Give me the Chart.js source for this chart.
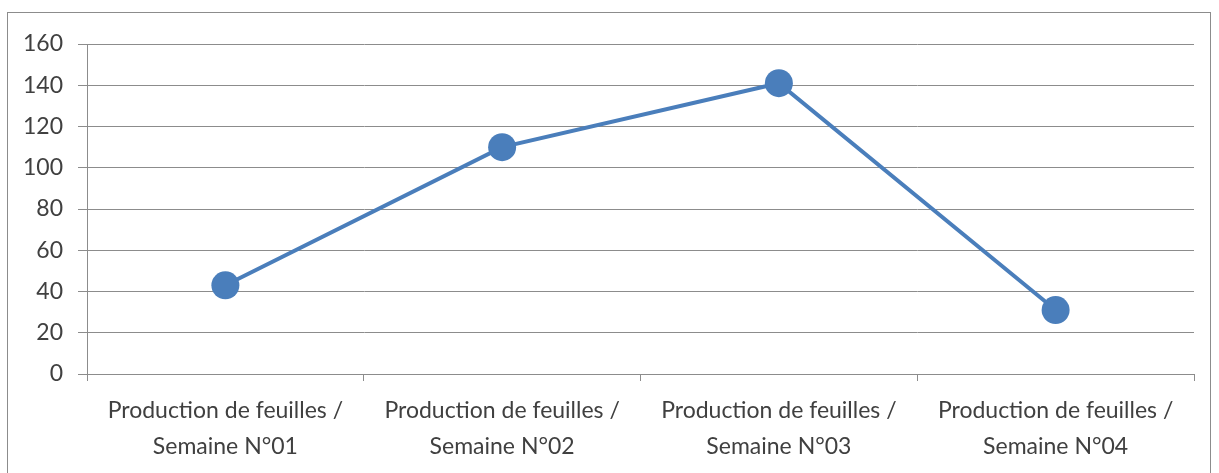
<!DOCTYPE html>
<html>
<head>
<meta charset="utf-8">
<script src="https://cdn.jsdelivr.net/npm/chart.js@4"></script>
<style>
  html, body { margin: 0; padding: 0; background: #fff; }
  #wrap { position: relative; width: 1219px; height: 473px; }
  #frame { position: absolute; left: 7px; top: 12px; width: 1204px; height: 470px; border: 1px solid #8c8c8c; box-sizing: border-box; }
  canvas { position: absolute; left: 0; top: 0; }
</style>
</head>
<body>
<div id="wrap">
  <div id="frame"></div>
  <canvas id="chart" width="1219" height="473"></canvas>
</div>
<script>
// Categories and values
const weeks = [
    ['Production de feuilles /', 'Semaine N°01'],
    ['Production de feuilles /', 'Semaine N°02'],
    ['Production de feuilles /', 'Semaine N°03'],
    ['Production de feuilles /', 'Semaine N°04']
];
const production = [43, 110, 141, 31];
const yTicks = [0, 20, 40, 60, 80, 100, 120, 140, 160];

const blue = '#4a7ebb';
const gridColor = '#8c8c8c';
const textColor = '#404040';

new Chart(document.getElementById('chart'), {
    type: 'line',
    data: {
        labels: weeks,
        datasets: [{
            data: production,
            borderColor: blue,
            backgroundColor: blue,
            borderWidth: 4,
            pointRadius: 14,
            pointHoverRadius: 14,
            pointBackgroundColor: blue,
            pointBorderWidth: 0,
            tension: 0
        }]
    },
    options: {
        responsive: false,
        animation: false,
        layout: { padding: { top: 44, right: 25, left: 0, bottom: 0 } },
        plugins: { legend: { display: false }, tooltip: { enabled: false } },
        scales: {
            x: {
                offset: true,
                grid: {
                    offset: true,
                    drawOnChartArea: false,
                    color: gridColor,
                    tickLength: 7
                },
                border: { color: gridColor, width: 1 },
                ticks: {
                    color: textColor,
                    font: { family: 'Lato, sans-serif', size: 23, lineHeight: '36px' },
                    padding: 12,
                    maxRotation: 0
                },
                afterFit: (scale) => { scale.height = 99; }
            },
            y: {
                min: 0,
                max: 160,
                afterBuildTicks: (scale) => { scale.ticks = yTicks.map(v => ({ value: v })); },
                grid: { color: gridColor, tickLength: 9 },
                border: { color: gridColor, width: 1 },
                ticks: {
                    color: textColor,
                    font: { family: 'Lato, sans-serif', size: 23 },
                    padding: 15
                },
                afterFit: (scale) => { scale.width = 87; }
            }
        }
    }
});
</script>
</body>
</html>
